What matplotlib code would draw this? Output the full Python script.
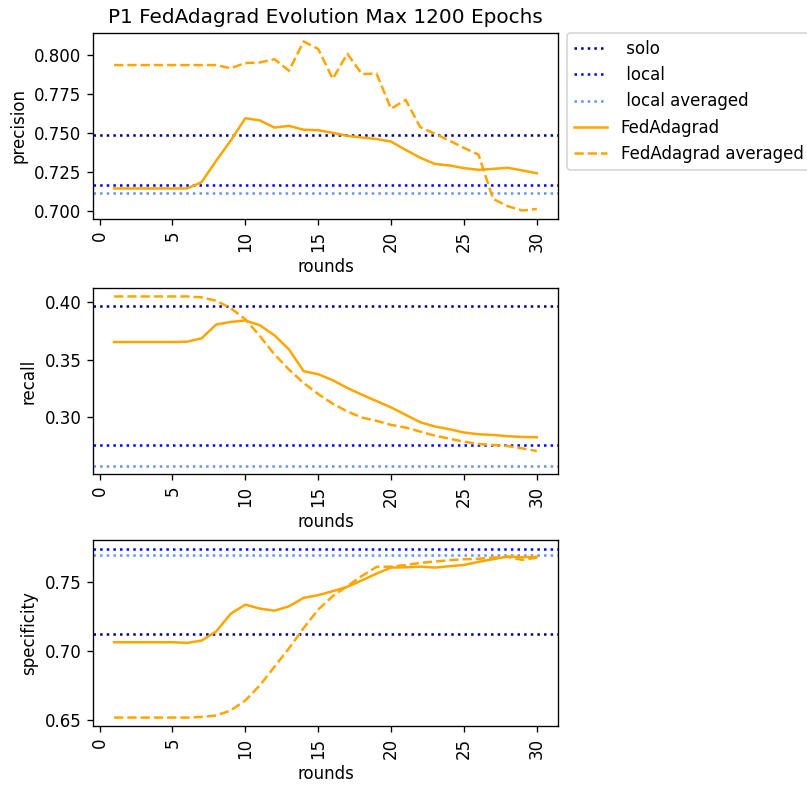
import numpy as np
import matplotlib
matplotlib.use("Agg")
import matplotlib.pyplot as plt
from matplotlib.ticker import MultipleLocator

rounds = np.arange(1, 31)

# baselines per metric: solo, local, local averaged
precision_solo = 0.7483
precision_local = 0.7165
precision_local_avg = 0.7114
recall_solo = 0.3965
recall_local = 0.2762
recall_local_avg = 0.2585
specificity_solo = 0.7125
specificity_local = 0.7747
specificity_local_avg = 0.7698

precision_fed = [0.7142, 0.7142, 0.7142, 0.7142, 0.7142, 0.7142, 0.7182, 0.732, 0.745, 0.7594,
                 0.758, 0.7534, 0.7545, 0.752, 0.7517, 0.750, 0.748, 0.747, 0.746, 0.7444,
                 0.739, 0.734, 0.730, 0.729, 0.7273, 0.7262, 0.7268, 0.7275, 0.7258, 0.724]
precision_fed_avg = [0.7936, 0.7936, 0.7936, 0.7936, 0.7936, 0.7936, 0.7936, 0.7936, 0.7916, 0.7949,
                     0.7953, 0.7974, 0.790, 0.8088, 0.804, 0.7848, 0.8009, 0.7878, 0.7882, 0.7655,
                     0.7712, 0.7537, 0.7494, 0.745, 0.7403, 0.736, 0.7075, 0.7028, 0.700, 0.701]

recall_fed = [0.3652, 0.3652, 0.3652, 0.3652, 0.3652, 0.3655, 0.3684, 0.3803, 0.3826, 0.3838,
              0.3797, 0.371, 0.3588, 0.340, 0.3374, 0.3322, 0.3255, 0.3197, 0.3142, 0.3087,
              0.3023, 0.2959, 0.2922, 0.2899, 0.287, 0.2855, 0.2849, 0.2838, 0.2832, 0.2829]
recall_fed_avg = [0.4046, 0.4046, 0.4046, 0.4046, 0.4046, 0.4046, 0.4038, 0.4009, 0.3945, 0.3849,
                  0.3704, 0.3545, 0.3414, 0.3298, 0.3203, 0.3119, 0.3052, 0.300, 0.2971, 0.2936,
                  0.2913, 0.2878, 0.2843, 0.2817, 0.2791, 0.2771, 0.2762, 0.2753, 0.2733, 0.271]

specificity_fed = [0.7064, 0.7064, 0.7064, 0.7064, 0.7064, 0.7059, 0.7076, 0.7142, 0.7272, 0.7338,
                   0.7309, 0.7294, 0.7326, 0.7387, 0.7407, 0.7436, 0.7468, 0.7515, 0.7564, 0.7608,
                   0.761, 0.7615, 0.7608, 0.7618, 0.7627, 0.765, 0.7669, 0.7689, 0.7684, 0.7686]
specificity_fed_avg = [0.6515, 0.6515, 0.6515, 0.6515, 0.6515, 0.6515, 0.652, 0.653, 0.6567, 0.664,
                       0.675, 0.6885, 0.702, 0.7167, 0.7302, 0.740, 0.7473, 0.7547, 0.7613, 0.7615,
                       0.7627, 0.7642, 0.7652, 0.7662, 0.7669, 0.7672, 0.7681, 0.7686, 0.7664, 0.7681]

metrics = [
    ("precision", precision_solo, precision_local, precision_local_avg, precision_fed, precision_fed_avg, 0.025),
    ("recall", recall_solo, recall_local, recall_local_avg, recall_fed, recall_fed_avg, 0.05),
    ("specificity", specificity_solo, specificity_local, specificity_local_avg, specificity_fed, specificity_fed_avg, 0.05),
]

fig = plt.figure(figsize=(807 / 120, 786 / 120), dpi=120)
left, width, height = 0.1152, 0.5762, 0.2366
bottoms = [0.7214, 0.397, 0.0763]

axes = []
for (name, solo, local, local_avg, fed, fed_avg, step), b in zip(metrics, bottoms):
    ax = fig.add_axes([left, b, width, height])
    ax.axhline(solo, color="navy", linestyle=":", label=" solo")
    ax.axhline(local, color="blue", linestyle=":", label=" local")
    ax.axhline(local_avg, color="cornflowerblue", linestyle=":", label=" local averaged")
    ax.plot(rounds, fed, color="orange", linestyle="-", label="FedAdagrad")
    ax.plot(rounds, fed_avg, color="orange", linestyle="--", label="FedAdagrad averaged")
    ax.set_ylabel(name)
    ax.set_xlabel("rounds")
    ax.set_xticks([0, 5, 10, 15, 20, 25, 30])
    ax.yaxis.set_major_locator(MultipleLocator(step))
    ax.tick_params(axis="x", labelrotation=90)
    axes.append(ax)

axes[0].set_title("P1 FedAdagrad Evolution Max 1200 Epochs")
axes[0].legend(loc="upper left", bbox_to_anchor=(1.02, 1), borderaxespad=0)

fig.savefig("out.png", dpi=120)
